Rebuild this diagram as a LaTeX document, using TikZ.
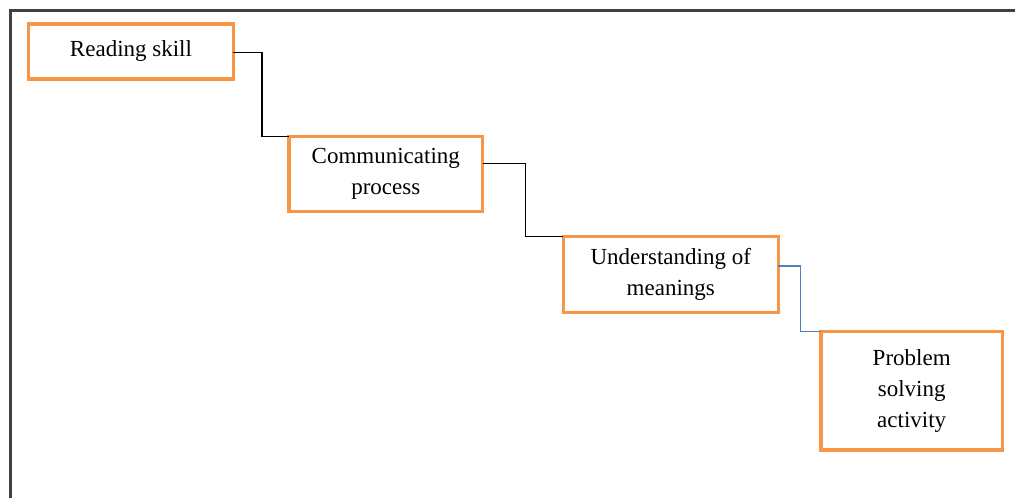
\documentclass[tikz,border=0pt]{standalone}
\usepackage{fontspec}
\setmainfont{Liberation Serif}
\definecolor{boxorange}{HTML}{F79646}
\definecolor{linkblue}{HTML}{4F81BD}
\definecolor{framegray}{HTML}{404040}
\begin{document}
\begin{tikzpicture}[x=1pt,y=-1pt,
  stepbox/.style={draw=boxorange, line width=3.5pt, fill=white, inner sep=0pt, outer sep=0pt,
    align=center, font=\fontsize{23}{31}\selectfont},
  link/.style={line width=1.4pt, black},
  bluelink/.style={line width=1.4pt, linkblue}]
\useasboundingbox (0,0) rectangle (1015,498);
\draw[framegray, line width=3pt] (10,498) -- (10,10) -- (1015,10);
\node[stepbox, minimum width=204.6pt, minimum height=55pt] (a) at (131,51.5) {Reading skill};
\node[stepbox, minimum width=193.7pt, minimum height=75pt] (b) at (385.8,174.2) {Communicating\\process};
\node[stepbox, minimum width=215pt, minimum height=75.6pt] (c) at (670.8,274.5) {Understanding of\\meanings};
\node[stepbox, minimum width=181.3pt, minimum height=118.3pt] (d) at (911.7,390.8) {Problem\\solving\\activity};
\draw[link] ([yshift=-1pt]a.east) -| ([xshift=-27pt]b.north west) -- (b.north west);
\draw[link] ([yshift=11pt]b.east) -| ([xshift=-38pt]c.north west) -- (c.north west);
\draw[bluelink] ([yshift=8.5pt]c.east) -| ([xshift=-20.5pt]d.north west) -- (d.north west);
\end{tikzpicture}
\end{document}
